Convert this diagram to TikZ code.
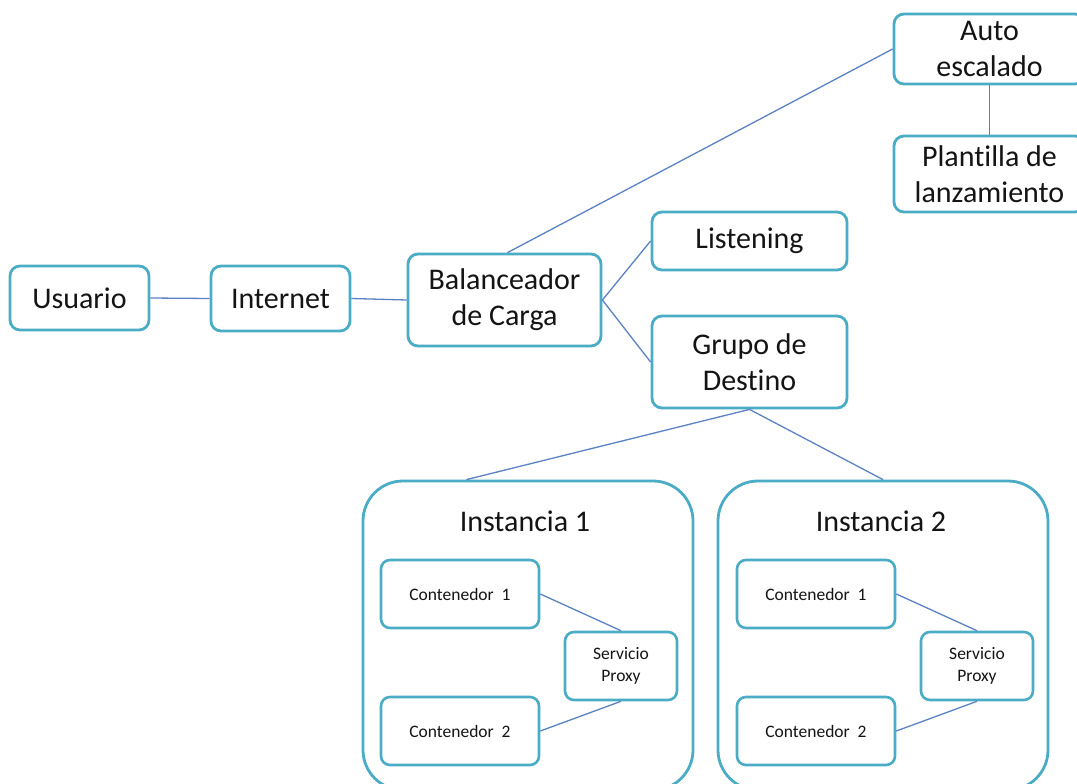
\documentclass[tikz,border=0pt]{standalone}
\usepackage{fontspec}
\setmainfont[Ligatures=NoCommon]{Carlito}
\usetikzlibrary{calc}
\definecolor{boxc}{HTML}{4BACC6}
\definecolor{linec}{HTML}{5B82C4}
\definecolor{txtc}{HTML}{141414}
\begin{document}
\begin{tikzpicture}[x=1pt,y=-1pt,
  bigbox/.style={draw=boxc, line width=2.8pt, rounded corners=10pt, fill=white,
    inner sep=0pt, align=center, text=txtc, font=\fontsize{30}{36}\selectfont},
  smallbox/.style={draw=boxc, line width=2.6pt, rounded corners=9pt, fill=white,
    inner sep=0pt, align=center, text=txtc, font=\fontsize{17.5}{22.5}\selectfont},
  instbox/.style={draw=boxc, line width=2.8pt, rounded corners=40pt, inner sep=0pt},
  titletext/.style={text=txtc, font=\fontsize{30}{36}\selectfont, inner sep=0pt},
  conn/.style={draw=linec, line width=1.3pt}]
\useasboundingbox[fill=white] (0,0) rectangle (1077,784);

% instance boxes
\node[instbox, minimum width=330pt, minimum height=309pt] (i1) at (528,635.5) {};
\node[instbox, minimum width=330pt, minimum height=309pt] (i2) at (883,635.5) {};
\node[titletext] (t1) at (525,521) {Instancia 1};
\node[titletext] (t2) at (881,521) {Instancia 2};

% main boxes
\node[bigbox, minimum width=139pt, minimum height=64pt] (usr) at (79.5,298) {Usuario};
\node[bigbox, minimum width=139pt, minimum height=65pt] (inet) at (280.5,298.5) {Internet};
\node[bigbox, minimum width=193pt, minimum height=92pt] (bal) at (504.5,300) {Balanceador\\de Carga};
\node[bigbox, minimum width=195pt, minimum height=58pt] (lis) at (749.5,241) {Listening};
\node[bigbox, minimum width=195pt, minimum height=92pt] (grp) at (749.5,362) {Grupo de\\Destino};
\node[bigbox, minimum width=191pt, minimum height=70pt] (auto) at (989.5,49) {Auto\\escalado};
\node[bigbox, minimum width=191pt, minimum height=76pt] (plant) at (989.5,174) {Plantilla de\\lanzamiento};

% containers
\node[smallbox, minimum width=158pt, minimum height=68pt] (c11) at (460,594) {Contenedor\ \ 1};
\node[smallbox, minimum width=112pt, minimum height=68pt] (p1) at (621,666) {Servicio\\Proxy};
\node[smallbox, minimum width=158pt, minimum height=68pt] (c12) at (460,731) {Contenedor\ \ 2};
\node[smallbox, minimum width=158pt, minimum height=68pt] (c21) at (816,594) {Contenedor\ \ 1};
\node[smallbox, minimum width=112pt, minimum height=68pt] (p2) at (977,666) {Servicio\\Proxy};
\node[smallbox, minimum width=158pt, minimum height=68pt] (c22) at (816,731) {Contenedor\ \ 2};

% connectors
\draw[conn] (usr.east) -- (inet.west);
\draw[conn] (inet.east) -- (bal.west);
\draw[conn] ($(bal.north)+(3,0)$) -- (auto.west);
\draw[conn] (bal.east) -- (lis.west);
\draw[conn] (bal.east) -- (grp.west);
\draw[conn] (auto.south) -- (plant.north);
\draw[conn] (grp.south) -- ($(i1.north west)!0.315!(i1.north east)$);
\draw[conn] (grp.south) -- (i2.north);
\draw[conn] (c11.east) -- (p1.north);
\draw[conn] (c12.east) -- (p1.south);
\draw[conn] (c21.east) -- (p2.north);
\draw[conn] (c22.east) -- (p2.south);
\end{tikzpicture}
\end{document}
